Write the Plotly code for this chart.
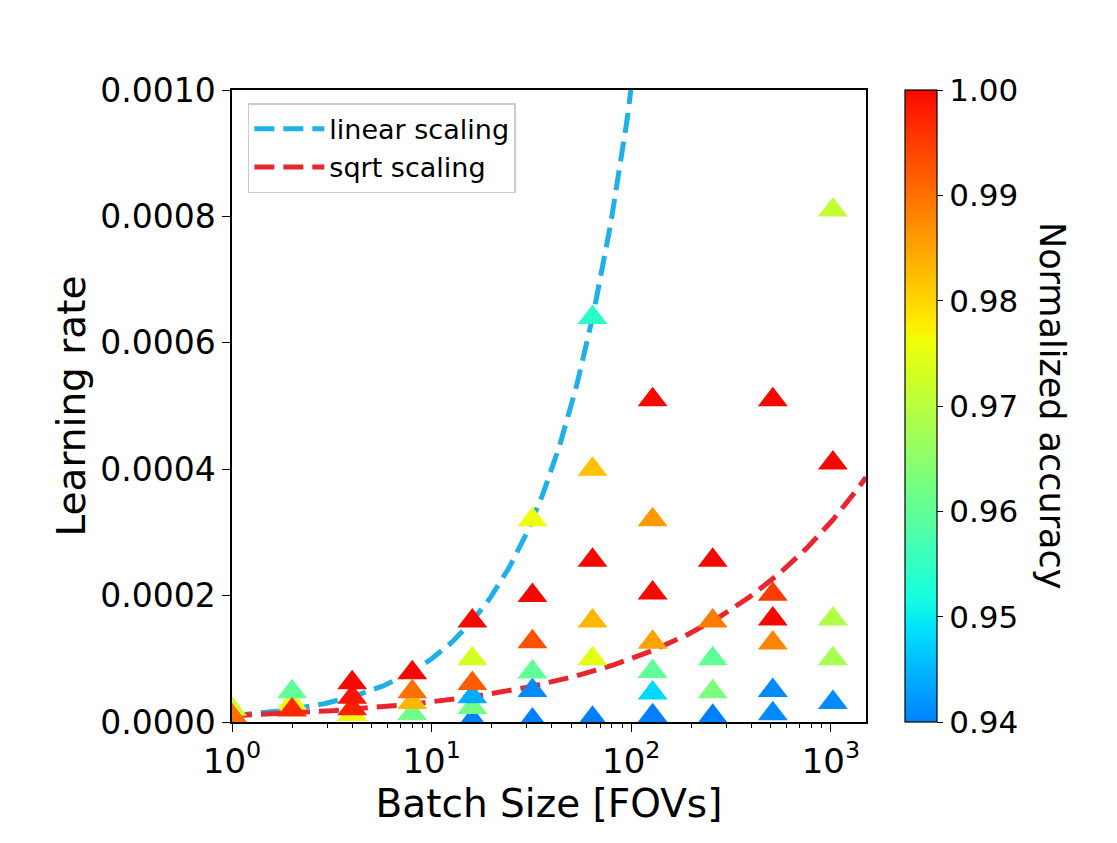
import numpy as np
import plotly.graph_objects as go

# ---------------- data ----------------
batch_size = [1, 1,
              2, 2, 2,
              4, 4, 4, 4,
              8, 8, 8, 8,
              16, 16, 16, 16, 16, 16,
              32, 32, 32, 32, 32, 32,
              64, 64, 64, 64, 64, 64,
              128, 128, 128, 128, 128, 128, 128,
              256, 256, 256, 256, 256,
              512, 512, 512, 512, 512, 512,
              1024, 1024, 1024, 1024, 1024]
learning_rate = [2.0e-5, 1.0e-5,
                 3.0e-5, 4.8e-5, 1.9e-5,
                 1.2e-5, 2.1e-5, 3.9e-5, 6.2e-5,
                 1.3e-5, 3.1e-5, 4.8e-5, 7.8e-5,
                 3e-6, 2.3e-5, 4.0e-5, 6.1e-5, 1.0e-4, 1.6e-4,
                 3e-6, 5.0e-5, 7.9e-5, 1.27e-4, 2.0e-4, 3.2e-4,
                 6e-6, 1.0e-4, 1.6e-4, 2.56e-4, 4.0e-4, 6.4e-4,
                 4.6e-5, 8.0e-5, 1.0e-5, 1.26e-4, 2.04e-4, 3.2e-4, 5.1e-4,
                 9e-6, 4.8e-5, 1.0e-4, 1.6e-4, 2.56e-4,
                 1.3e-5, 5.0e-5, 1.25e-4, 2.02e-4, 1.63e-4, 5.1e-4,
                 3.1e-5, 1.0e-4, 1.63e-4, 4.1e-4, 8.1e-4]
norm_accuracy = [0.972, 0.990,
                 0.975, 0.960, 0.997,
                 0.977, 0.998, 0.999, 1.000,
                 0.962, 0.983, 0.990, 1.000,
                 0.940, 0.962, 0.944, 0.992, 0.973, 1.000,
                 0.940, 0.941, 0.960, 0.993, 1.000, 0.976,
                 0.940, 0.975, 0.983, 1.000, 0.982, 0.954,
                 0.948, 0.960, 0.940, 0.985, 1.000, 0.986, 1.000,
                 0.940, 0.963, 0.960, 0.989, 1.000,
                 0.941, 0.941, 0.988, 0.995, 1.000, 1.000,
                 0.941, 0.968, 0.969, 1.000, 0.971]

base_lr = 1e-5
curve_batch = np.geomspace(1, 1500, 300)
linear_lr = base_lr * curve_batch
sqrt_lr = base_lr * np.sqrt(curve_batch)

y_ticks = [0.0, 0.0002, 0.0004, 0.0006, 0.0008, 0.0010]
x_ticks = [1, 10, 100, 1000]
x_ticktext = ["10<sup>0</sup>", "10<sup>1</sup>", "10<sup>2</sup>", "10<sup>3</sup>"]
cbar_ticks = [0.94, 0.95, 0.96, 0.97, 0.98, 0.99, 1.00]


# ---------------- colormap (segment of jet) ----------------
def _interp(t, pts):
    xs = [p[0] for p in pts]
    ys = [p[1] for p in pts]
    return float(np.interp(t, xs, ys))


def jet(t):
    r = _interp(t, [(0, 0), (0.35, 0), (0.66, 1), (0.89, 1), (1, 0.5)])
    g = _interp(t, [(0, 0), (0.125, 0), (0.375, 1), (0.64, 1), (0.91, 0), (1, 0)])
    b = _interp(t, [(0, 0.5), (0.11, 1), (0.34, 1), (0.65, 0), (1, 0)])
    return "rgb(%d,%d,%d)" % (round(r * 255), round(g * 255), round(b * 255))


colorscale = []
for f in np.linspace(0, 1, 41):
    colorscale.append([float(f), jet(0.25 + 0.65 * f)])

FONT = "DejaVu Sans"

fig = go.Figure()

fig.add_trace(go.Scatter(
    x=curve_batch, y=linear_lr, mode="lines", name="linear scaling",
    line=dict(color="#1eb0e8", width=5, dash="20px,9px"),
    hoverinfo="skip"))
fig.add_trace(go.Scatter(
    x=curve_batch, y=sqrt_lr, mode="lines", name="sqrt scaling",
    line=dict(color="#e8262f", width=5, dash="20px,9px"),
    hoverinfo="skip"))

fig.add_trace(go.Scatter(
    x=batch_size, y=learning_rate, mode="markers", showlegend=False,
    marker=dict(
        symbol="triangle-up", size=26,
        color=norm_accuracy, colorscale=colorscale, cmin=0.94, cmax=1.0,
        line=dict(width=0),
        colorbar=dict(
            x=1.0615, xanchor="left", xpad=0,
            y=0.5, yanchor="middle", len=1.0, lenmode="fraction", ypad=0,
            thickness=32, thicknessmode="pixels",
            outlinecolor="black", outlinewidth=1.2,
            tickvals=cbar_ticks, tickformat=".2f",
            ticks="outside", ticklen=6, tickwidth=1.2, tickcolor="black",
            tickfont=dict(family=FONT, size=31, color="black"),
        ),
    ),
))

# colorbar label, reading top to bottom
fig.add_annotation(
    text="Normalized accuracy", xref="paper", yref="paper",
    x=(1052 - 232) / 634, y=0.5, xanchor="center", yanchor="middle",
    textangle=90, showarrow=False,
    font=dict(family=FONT, size=35, color="black"))

fig.update_layout(
    width=1109, height=835, autosize=False,
    margin=dict(l=224, r=251, t=82, b=121, pad=0),
    paper_bgcolor="white", plot_bgcolor="white",
    font=dict(family=FONT, color="black"),
    showlegend=True,
    legend=dict(
        x=0.025, y=0.979, xanchor="left", yanchor="top",
        bgcolor="white", bordercolor="#cccccc", borderwidth=1.5,
        font=dict(family=FONT, size=27, color="black"),
        itemwidth=70, tracegroupgap=0,
    ),
    xaxis=dict(
        type="log", range=[0, np.log10(1500)],
        tickvals=x_ticks, ticktext=x_ticktext,
        ticks="outside", ticklen=8, tickwidth=1.3, tickcolor="black",
        minor=dict(ticks="outside", ticklen=4, tickwidth=1, tickcolor="black",
                   tickvals=[2, 3, 4, 5, 6, 7, 8, 9, 20, 30, 40, 50, 60, 70, 80, 90,
                             200, 300, 400, 500, 600, 700, 800, 900],
                   showgrid=False),
        showline=True, linecolor="black", linewidth=1.5, mirror=True,
        showgrid=False, zeroline=False,
        tickfont=dict(family=FONT, size=34, color="black"),
        title=dict(text="Batch Size [FOVs]", standoff=0,
                   font=dict(family=FONT, size=39, color="black")),
        automargin=False,
    ),
    yaxis=dict(
        range=[0, 0.001],
        tickvals=y_ticks, tickformat=".4f",
        ticks="outside", ticklen=8, tickwidth=1.3, tickcolor="black",
        showline=True, linecolor="black", linewidth=1.5, mirror=True,
        showgrid=False, zeroline=False,
        tickfont=dict(family=FONT, size=33, color="black"),
        title=dict(text="Learning rate", standoff=3,
                   font=dict(family=FONT, size=39, color="black")),
        automargin=False,
    ),
)

fig.write_html("out.html")
